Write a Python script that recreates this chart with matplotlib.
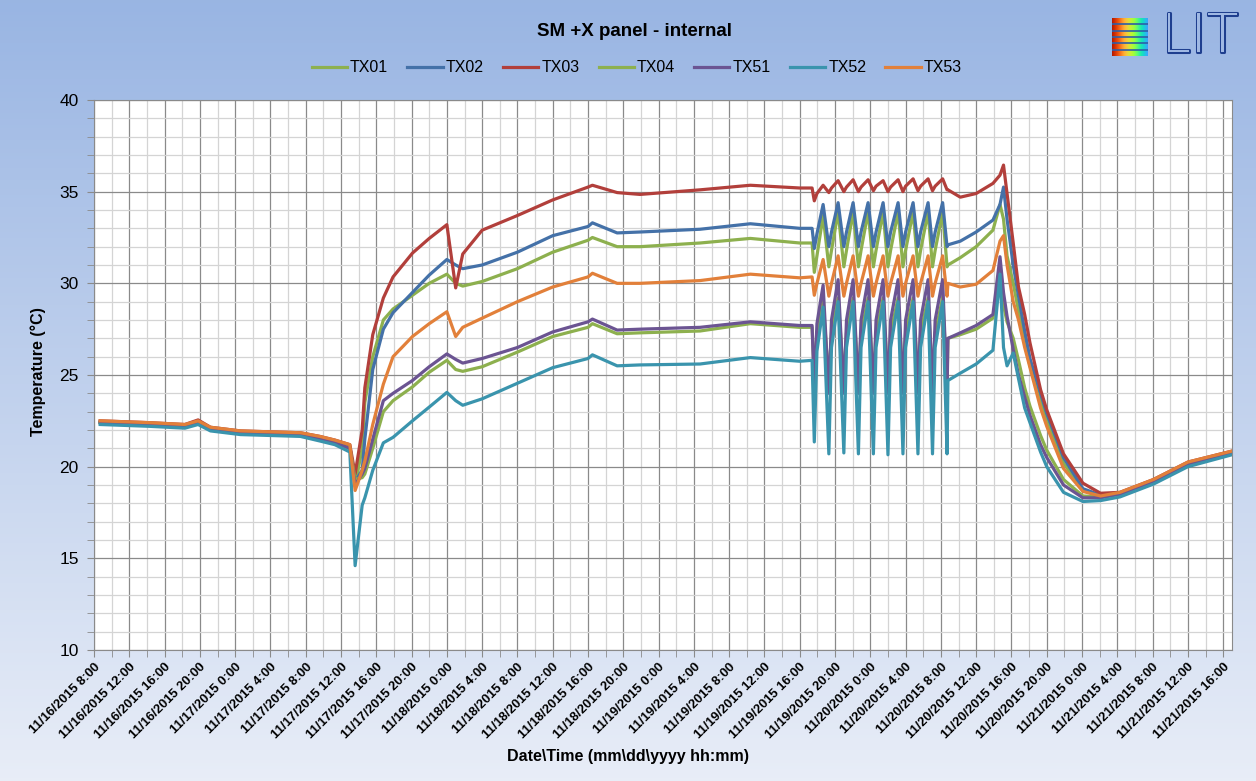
import datetime as dt
import numpy as np
import matplotlib
matplotlib.use("Agg")
import matplotlib.pyplot as plt
import matplotlib.dates as mdates
from matplotlib.ticker import MultipleLocator, FuncFormatter
import matplotlib.patheffects as pe

plt.rcParams["font.family"] = ["Liberation Sans", "DejaVu Sans"]

# hours since 11/16/2015 8:00
T0 = dt.datetime(2015, 11, 16, 8, 0)

t_pre = [0.7, 6.3, 10.3, 11.8, 13.2, 16.6, 23.4, 25.6, 27.3, 29.0, 29.6, 30.4,
         30.7, 31.6, 32.8, 33.9, 36.1, 38.0, 40.0, 41.0, 41.8, 44.0, 48.0, 52.0,
         56.0, 56.5, 59.3, 61.9, 68.7, 74.4, 80.0, 81.4]
# cycling: trough, mid-rise, peak ... last trough
t_cyc = [81.65, 81.95, 82.65, 83.3, 83.6, 84.35, 85.0, 85.3, 86.05, 86.65,
         86.95, 87.75, 88.35, 88.65, 89.45, 90.0, 90.3, 91.15, 91.7, 92.0,
         92.85, 93.4, 93.7, 94.55, 95.05, 95.35, 96.2, 96.7]
t_post = [96.8, 98.2, 100.0, 101.9, 102.7, 103.1, 103.5, 104.2, 104.8, 105.5,
          106.1, 107.3, 108.0, 109.9, 112.1, 114.1, 116.3, 120.1, 124.0, 129.0]

tx01_pre = [22.4, 22.3, 22.2, 22.35, 22.05, 21.85, 21.75, 21.5, 21.3, 21.05, 19.0, 21.0,
            23.5, 26.0, 28.0, 28.6, 29.35, 30.0, 30.5, 30.0, 29.85, 30.1, 30.8, 31.7,
            32.35, 32.5, 32.0, 32.0, 32.2, 32.45, 32.2, 32.2]
tx01_cyc = [30.6, 31.5, 33.7, 30.9, 31.8, 33.9, 30.9, 31.8, 33.9, 30.9,
            31.8, 33.9, 30.9, 31.8, 33.9, 30.9, 31.8, 33.9, 30.9, 31.8,
            33.9, 30.9, 31.8, 33.9, 30.9, 31.8, 33.9, 30.9]
tx01_post = [31.0, 31.4, 32.0, 32.9, 34.3, 33.5, 31.5, 30.0, 28.5, 26.8,
             25.5, 23.6, 22.5, 20.2, 18.7, 18.4, 18.55, 19.25, 20.2, 20.8]

tx02_pre = [22.45, 22.35, 22.25, 22.4, 22.1, 21.9, 21.8, 21.55, 21.35, 21.1, 19.2, 19.8,
            21.5, 25.3, 27.5, 28.4, 29.5, 30.45, 31.3, 31.0, 30.8, 31.0, 31.7, 32.6,
            33.1, 33.3, 32.75, 32.8, 32.95, 33.25, 33.0, 33.0]
tx02_cyc = [31.9, 32.7, 34.3, 32.0, 32.8, 34.4, 32.0, 32.8, 34.4, 32.0,
            32.8, 34.4, 32.0, 32.8, 34.4, 32.0, 32.8, 34.4, 32.0, 32.8,
            34.4, 32.0, 32.8, 34.4, 32.0, 32.8, 34.4, 32.0]
tx02_post = [32.1, 32.3, 32.8, 33.45, 34.3, 35.25, 33.5, 31.0, 29.3, 27.4,
             25.9, 24.0, 22.9, 20.5, 18.8, 18.45, 18.55, 19.25, 20.2, 20.75]

tx03_pre = [22.5, 22.4, 22.3, 22.55, 22.15, 21.95, 21.85, 21.65, 21.45, 21.2, 19.6, 22.0,
            24.3, 27.2, 29.2, 30.35, 31.65, 32.45, 33.2, 29.75, 31.6, 32.9, 33.7, 34.55,
            35.25, 35.35, 34.95, 34.85, 35.1, 35.35, 35.2, 35.2]
tx03_cyc = [34.5, 34.9, 35.35, 34.95, 35.2, 35.6, 35.0, 35.25, 35.65, 35.0,
            35.25, 35.65, 35.05, 35.3, 35.6, 35.0, 35.25, 35.65, 35.0, 35.3,
            35.7, 35.05, 35.3, 35.7, 35.05, 35.3, 35.7, 35.1]
tx03_post = [35.1, 34.7, 34.9, 35.45, 35.9, 36.45, 34.9, 32.2, 29.8, 28.3,
             26.75, 24.2, 23.1, 20.7, 19.1, 18.55, 18.6, 19.3, 20.25, 20.85]

tx04_pre = [22.4, 22.3, 22.2, 22.35, 22.05, 21.85, 21.75, 21.5, 21.3, 21.0, 19.3, 19.4,
            19.6, 21.0, 23.0, 23.6, 24.35, 25.15, 25.8, 25.3, 25.2, 25.45, 26.25, 27.1,
            27.6, 27.8, 27.25, 27.3, 27.4, 27.8, 27.6, 27.6]
tx04_cyc = [24.8, 27.2, 29.0, 24.6, 27.3, 29.2, 24.6, 27.3, 29.2, 24.6,
            27.3, 29.2, 24.6, 27.3, 29.2, 24.6, 27.3, 29.2, 24.6, 27.3,
            29.2, 24.6, 27.3, 29.2, 24.6, 27.3, 29.2, 24.6]
tx04_post = [27.0, 27.2, 27.5, 28.1, 30.7, 28.8, 27.9, 27.0, 25.8, 24.3,
             23.3, 21.7, 20.9, 19.3, 18.4, 18.35, 18.5, 19.2, 20.15, 20.75]

tx51_pre = [22.4, 22.3, 22.2, 22.35, 22.05, 21.85, 21.75, 21.5, 21.3, 21.0, 19.0, 19.6,
            19.9, 21.5, 23.6, 24.0, 24.7, 25.45, 26.15, 25.85, 25.65, 25.9, 26.5, 27.35,
            27.9, 28.05, 27.45, 27.5, 27.6, 27.9, 27.7, 27.7]
tx51_cyc = [24.2, 27.8, 29.9, 24.0, 28.0, 30.2, 24.0, 28.0, 30.2, 24.0,
            28.0, 30.2, 24.0, 28.0, 30.2, 24.0, 28.0, 30.2, 24.0, 28.0,
            30.2, 24.0, 28.0, 30.2, 24.0, 28.0, 30.2, 24.0]
tx51_post = [27.0, 27.3, 27.7, 28.3, 31.45, 29.5, 28.2, 26.4, 25.0, 23.8,
             22.8, 21.2, 20.5, 19.0, 18.3, 18.3, 18.5, 19.2, 20.15, 20.75]

tx52_pre = [22.3, 22.2, 22.1, 22.3, 21.95, 21.75, 21.65, 21.4, 21.2, 20.8, 14.6, 17.9,
            18.3, 19.8, 21.3, 21.6, 22.5, 23.25, 24.05, 23.6, 23.35, 23.7, 24.55, 25.4,
            25.9, 26.1, 25.5, 25.55, 25.6, 25.95, 25.75, 25.8]
tx52_cyc = [21.35, 26.3, 28.7, 20.7, 26.5, 29.0, 20.75, 26.5, 29.0, 20.7,
            26.5, 29.0, 20.7, 26.5, 29.0, 20.65, 26.5, 29.0, 20.7, 26.5,
            29.0, 20.7, 26.5, 29.0, 20.7, 26.5, 29.0, 20.7]
tx52_post = [24.7, 25.1, 25.6, 26.35, 30.5, 26.5, 25.5, 26.2, 24.8, 23.2,
             22.4, 20.8, 20.0, 18.6, 18.1, 18.15, 18.35, 19.05, 20.0, 20.65]

tx53_pre = [22.5, 22.4, 22.3, 22.5, 22.15, 21.95, 21.85, 21.65, 21.45, 21.2, 18.7, 19.8,
            20.3, 22.3, 24.5, 26.0, 27.1, 27.8, 28.45, 27.1, 27.6, 28.1, 29.0, 29.8,
            30.35, 30.55, 30.0, 30.0, 30.15, 30.5, 30.3, 30.35]
tx53_cyc = [29.35, 30.0, 31.3, 29.3, 30.0, 31.5, 29.3, 30.0, 31.5, 29.3,
            30.0, 31.5, 29.3, 30.0, 31.5, 29.3, 30.0, 31.5, 29.3, 30.0,
            31.5, 29.3, 30.0, 31.5, 29.3, 30.0, 31.5, 29.3]
tx53_post = [30.0, 29.8, 29.95, 30.7, 32.3, 32.6, 31.0, 29.0, 28.0, 26.5,
             25.4, 23.2, 22.2, 19.9, 18.65, 18.4, 18.6, 19.3, 20.25, 20.85]

names = ["TX01", "TX02", "TX03", "TX04", "TX51", "TX52", "TX53"]
colors = ["#8DB04E", "#4471A8", "#B23F3B", "#8DB04E", "#6B5492", "#3A94AD", "#E2803A"]
series = [
    (tx01_pre, tx01_cyc, tx01_post),
    (tx02_pre, tx02_cyc, tx02_post),
    (tx03_pre, tx03_cyc, tx03_post),
    (tx04_pre, tx04_cyc, tx04_post),
    (tx51_pre, tx51_cyc, tx51_post),
    (tx52_pre, tx52_cyc, tx52_post),
    (tx53_pre, tx53_cyc, tx53_post),
]

hours = t_pre + t_cyc + t_post
times = [T0 + dt.timedelta(hours=h) for h in hours]

W, H = 1256, 781
fig = plt.figure(figsize=(W / 100, H / 100), dpi=100)

# gradient background
bg = fig.add_axes([0, 0, 1, 1], zorder=-10)
grad = np.linspace(0, 1, 256).reshape(-1, 1)
top = np.array([0.60, 0.71, 0.89])
bot = np.array([0.91, 0.93, 0.97])
img = top[None, None, :] * (1 - grad[:, :, None]) + bot[None, None, :] * grad[:, :, None]
bg.imshow(img, aspect="auto", extent=[0, 1, 0, 1], origin="upper")
bg.set_xlim(0, 1)
bg.set_ylim(0, 1)
bg.axis("off")

ax = fig.add_axes([94 / W, 1 - 650 / H, (1232 - 94) / W, 550 / H])
ax.set_facecolor("white")

for (pre, cyc, post), c, n in zip(series, colors, names):
    ax.plot(times, pre + cyc + post, color=c, lw=2.3, label=n, solid_joinstyle="round")

ax.set_ylim(10, 40)
ax.set_xlim(T0, T0 + dt.timedelta(hours=129))
ax.yaxis.set_major_locator(MultipleLocator(5))
ax.yaxis.set_minor_locator(MultipleLocator(1))
ax.xaxis.set_major_locator(mdates.HourLocator(byhour=range(0, 24, 4)))
ax.xaxis.set_minor_locator(mdates.HourLocator(byhour=range(2, 24, 4)))


def fmt_date(x, pos):
    d = mdates.num2date(x)
    return f"{d.month}/{d.day}/{d.year} {d.hour}:{d.minute:02d}"


ax.xaxis.set_major_formatter(FuncFormatter(fmt_date))
ax.grid(which="major", color="#8a8a8a", lw=0.9)
ax.grid(which="minor", color="#d4d4d4", lw=0.9)
ax.set_axisbelow(True)
for s in ax.spines.values():
    s.set_color("#8a8a8a")
ax.tick_params(axis="both", which="both", direction="out", color="#8a8a8a", length=5)
ax.tick_params(axis="y", labelsize=12.5, pad=6)
ax.tick_params(axis="x", labelsize=9.4, pad=3)
for lab in ax.get_xticklabels():
    lab.set_rotation(45)
    lab.set_ha("right")
    lab.set_va("top")
    lab.set_rotation_mode("anchor")
    lab.set_fontweight("bold")

fig.text(0.505, 1 - 31 / H, "SM +X panel - internal", ha="center", va="center",
         fontsize=13.5, fontweight="bold")
fig.text(38 / W, 1 - 372 / H, "Temperature (°C)", rotation=90, ha="center", va="center",
         fontsize=11.5, fontweight="bold")
fig.text(0.5, 1 - 757 / H, "Date\\Time (mm\\dd\\yyyy hh:mm)", ha="center", va="center",
         fontsize=11.5, fontweight="bold")

fig.legend(loc="center", bbox_to_anchor=(0.507, 1 - 68 / H), ncol=7, frameon=False,
           fontsize=11.5, handlelength=2.2, columnspacing=1.2, handletextpad=0.2)

# LIT logo (approximation)
lg = fig.add_axes([1112 / W, 1 - 56 / H, 36 / W, 38 / H])
stripe = np.linspace(0, 1, 64).reshape(1, -1)
lg.imshow(stripe, cmap="turbo_r", aspect="auto", extent=[0, 1, 0, 1], vmin=-0.1, vmax=1.3)
for yy in [0.17, 0.34, 0.5, 0.66, 0.83]:
    lg.axhline(yy, color="#2d5da8", lw=1.2)
lg.set_xlim(0, 1)
lg.set_ylim(0, 1)
lg.axis("off")
bg.text(1200 / W, 1 - 37 / H, "LIT", ha="center", va="center", fontsize=38,
        color="#9fb8e3", family="DejaVu Sans", fontweight="light",
        path_effects=[pe.withStroke(linewidth=2.2, foreground="#1f3f8f")])

fig.savefig("out.png", dpi=100)
